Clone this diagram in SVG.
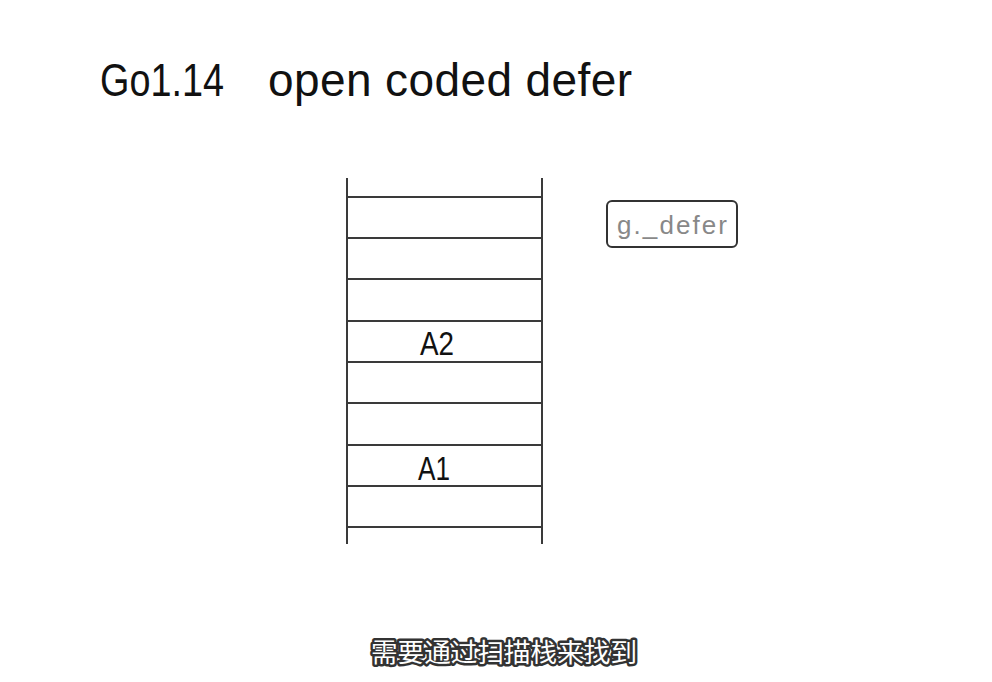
<svg xmlns="http://www.w3.org/2000/svg" width="992" height="682" viewBox="0 0 992 682">
<style>
.ln{stroke:#3a3a3a;stroke-width:2;fill:none}
.hand{font-family:"Liberation Sans","DejaVu Sans",sans-serif;fill:#111}
.sub{font-family:"Noto Sans CJK SC",sans-serif;font-size:26px;fill:#fff;stroke:#333;stroke-width:5;paint-order:stroke;stroke-linejoin:round}
</style>
<rect width="992" height="682" fill="#fff"/>
<g id="title">
<text class="hand" x="100" y="96" font-size="46" textLength="124" lengthAdjust="spacingAndGlyphs">Go1.14</text>
<text class="hand" x="268" y="96" font-size="46" textLength="364" lengthAdjust="spacing">open coded defer</text>
</g>
<g id="stack">
<line class="ln" x1="347" y1="178" x2="347" y2="544"/>
<line class="ln" x1="542" y1="178" x2="542" y2="544"/>
<line class="ln" x1="347" y1="197" x2="542" y2="197"/>
<line class="ln" x1="347" y1="238" x2="542" y2="238"/>
<line class="ln" x1="347" y1="279" x2="542" y2="279"/>
<line class="ln" x1="347" y1="321" x2="542" y2="321"/>
<line class="ln" x1="347" y1="362" x2="542" y2="362"/>
<line class="ln" x1="347" y1="403" x2="542" y2="403"/>
<line class="ln" x1="347" y1="445" x2="542" y2="445"/>
<line class="ln" x1="347" y1="486" x2="542" y2="486"/>
<line class="ln" x1="347" y1="527" x2="542" y2="527"/>
</g>
<g id="A2"><text class="hand" x="420" y="355" font-size="34" textLength="34" lengthAdjust="spacingAndGlyphs">A2</text></g>
<g id="A1"><text class="hand" x="418" y="480" font-size="34" textLength="32" lengthAdjust="spacingAndGlyphs">A1</text></g>
<g id="gdefer">
<rect x="607" y="201" width="130" height="46" rx="5" fill="#fff" stroke="#333" stroke-width="2"/>
<text x="617" y="234" font-family="Liberation Sans,sans-serif" font-size="26" fill="#888" textLength="110" lengthAdjust="spacing">g._defer</text>
</g>
<g id="subtitle"><text class="sub" x="504" y="662" text-anchor="middle" textLength="266" lengthAdjust="spacingAndGlyphs">需要通过扫描栈来找到</text></g>
</svg>
